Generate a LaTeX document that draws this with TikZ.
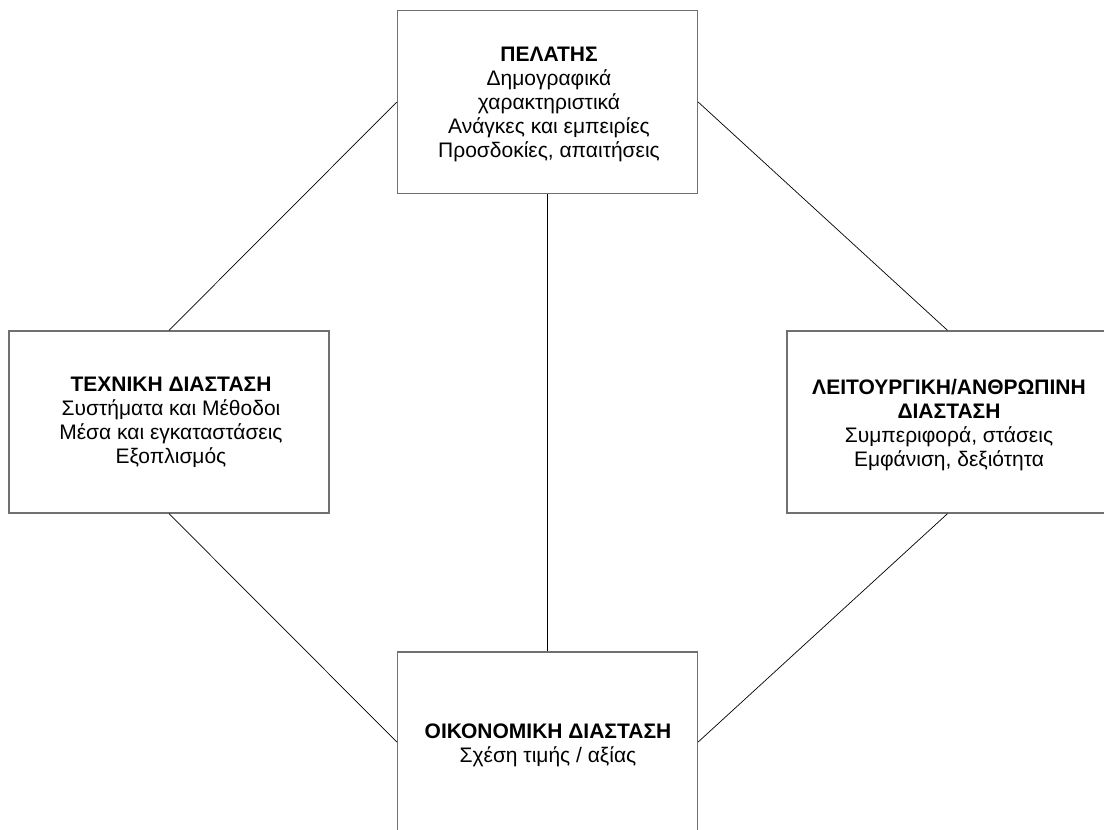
\documentclass[tikz,border=0pt]{standalone}
\usepackage{fontspec}
\setmainfont{Liberation Sans}
\begin{document}
\begin{tikzpicture}[x=1pt,y=-1pt,
  box/.style={draw=boxgray, line width=1.3pt, fill=white, inner sep=0pt,
    minimum width=#1},
  box/.default=300pt,
  label/.style={anchor=north, align=center, inner sep=0pt,
    font=\fontsize{21pt}{24pt}\selectfont},
  link/.style={draw=black, line width=0.7pt}]
\definecolor{boxgray}{HTML}{707070}
\useasboundingbox (0,0) rectangle (1104,830);

% connectors first, boxes are drawn over them
\coordinate (ct) at (547.5,102);
\coordinate (cl) at (169,422);
\coordinate (cr) at (947.5,422);
\coordinate (cb) at (547.5,742);

\node[box=300pt, minimum height=183pt] (top) at (ct) {};
\node[box=320pt, minimum height=182pt] (left) at (cl) {};
\node[box=321pt, minimum height=182pt] (right) at (cr) {};
\node[box=300pt, minimum height=180pt] (bottom) at (cb) {};

\begin{scope}[on background layer/.try]
\end{scope}

\draw[link] (top.west) -- (left.north);
\draw[link] (top.east) -- (right.north);
\draw[link] (top.south) -- (bottom.north);
\draw[link] (left.south) -- (bottom.west);
\draw[link] (right.south) -- (bottom.east);

\node[label] (toptext) at (549,47)
  {\textbf{ΠΕΛΑΤΗΣ}\\Δημογραφικά\\χαρακτηριστικά\\Ανάγκες και εμπειρίες\\Προσδοκίες, απαιτήσεις};
\node[label] (lefttext) at (171,377)
  {\textbf{ΤΕΧΝΙΚΗ ΔΙΑΣΤΑΣΗ}\\Συστήματα και Μέθοδοι\\Μέσα και εγκαταστάσεις\\Εξοπλισμός};
\node[label] (righttext) at (949,379)
  {\textbf{ΛΕΙΤΟΥΡΓΙΚΗ/ΑΝΘΡΩΠΙΝΗ}\\\textbf{ΔΙΑΣΤΑΣΗ}\\Συμπεριφορά, στάσεις\\Εμφάνιση, δεξιότητα};
\node[label] (bottomtext) at (548,724)
  {\textbf{ΟΙΚΟΝΟΜΙΚΗ ΔΙΑΣΤΑΣΗ}\\Σχέση τιμής / αξίας};
\end{tikzpicture}
\end{document}
